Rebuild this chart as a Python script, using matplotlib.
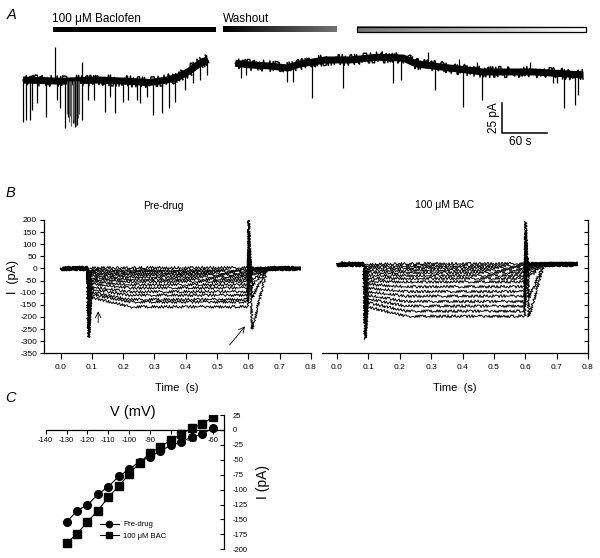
import numpy as np
import matplotlib
matplotlib.use("Agg")
import matplotlib.pyplot as plt
from matplotlib.patches import Rectangle

plt.rcParams['font.family'] = ['Liberation Sans', 'DejaVu Sans']
plt.rcParams['axes.unicode_minus'] = False

W, H = 600, 558

# ---------------- panel A : slow recording (time s, current pA)
base_left_t = [0, 49, 103, 169, 192, 209, 223, 236, 247]
base_left_i = [0, -1, 0, -2, 0, 3, 8, 14, 17]
base_right_t = [283, 303, 329, 353, 369, 403, 436, 472, 507, 525, 569, 613, 680, 747]
base_right_i = [14, 12.5, 11.7, 10, 13.3, 16.7, 16.7, 19, 18.3, 13.3, 10, 6.7, 6.7, 4.2]

left_ev_t = [0, 4, 9, 12, 19, 31, 45, 49, 56, 60, 67, 69, 72, 79, 87, 95, 109, 116,
             123, 133, 140, 152, 156, 165, 173, 185, 195, 203, 216, 227, 236, 245]
left_ev_i = [-35, -33, -33, -25, -19, -31, -17, -23, -40, -31, -36, -39, -37.5, -33, -17,
             -17, -27, -14, -27.5, -18, -17, -17, -19, -14, -29, -27.5, -23, -18, -8,
             -2.5, 0, 4]
grey_ev_t = [58, 61, 63, 64, 66, 68, 70, 71, 73, 74]
grey_ev_i = [-28, -35, -30, -38, -33, -36, -30, -38, -32, -28]
right_ev_t = [290, 297, 352, 360, 385, 427, 493, 504, 549, 587, 612, 707, 712, 721, 736, 740]
right_ev_i = [2, 4, -1.7, -1.7, -15, -6.7, -2.5, 0, -8.3, -22.5, -16.7, -2.5, -2.5,
              -23.3, -20.8, -12.5]
up_t = [43, 79, 540, 581, 605, 676]
up_i = [27.5, 15, 23, 17.5, 15, 15]

baclofen = (40, 257)
washout1 = (267, 419)
washout2 = (445, 751)
scale_t, scale_i = 60, 25

# ---------------- panel B : voltage steps (s, pA)
steps_mv = [-130, -125, -120, -115, -110, -105, -100, -95, -90, -85, -80, -75, -70, -65, -60]
pre_hold = 0
pre_init = [-118, -105, -97, -85, -75, -62, -53, -44, -37, -29, -22, -17, -10, -6, 2]
pre_ss = [-158, -138, -128, -110, -96, -80, -67, -54, -45, -35, -26, -20, -12, -7, 3]
pre_onset = [-285, -270, -250, -230, -200, -175, -150, -125, -105, -85, -70, -55, -40, -25, -10]
pre_up = [200, 150, 110, 80, 60, 45, 35, 25, 20, 15, 10, 8, 5, 3, 2]
pre_tail = [-250, -120, -70, -45, -30, -20, -12, -8, -5, -3, -2, 0, 0, 0, 0]

bac_hold = 20
bac_init = [-158, -140, -125, -110, -95, -80, -65, -52, -40, -28, -17, -8, 0, 8, 15]
bac_ss = [-197, -176, -155, -136, -114, -95, -75, -55, -41, -29, -17, -7, 3, 11, 20]
bac_onset = [-292, -270, -245, -220, -195, -170, -145, -120, -100, -80, -60, -40, -20, 0, 10]
bac_up = [195, 150, 110, 85, 65, 50, 40, 35, 30, 28, 26, 24, 22, 21, 20]
bac_tail = [-200, -120, -35, -20, -10, -2, 5, 10, 12, 15, 18, 20, 20, 20, 20]

t_knots = [0.0, 0.086, 0.09, 0.097, 0.22, 0.599, 0.601, 0.612, 0.66, 0.765]

# ---------------- panel C : I-V relation
iv_v = [-130, -125, -120, -115, -110, -105, -100, -95, -90, -85, -80, -75, -70, -65, -60]
iv_pre = [-155, -135, -126, -108, -95, -78, -66, -53, -45, -35, -26, -20, -12, -7, 3]
iv_bac = [-190, -174, -154, -135, -113, -94, -74, -55, -39, -28, -17, -7, 3, 10, 21]


def box(x0, y0, x1, y1):
    return [x0 / W, 1 - y1 / H, (x1 - x0) / W, (y1 - y0) / H]


def ftext(x, y, s, **kw):
    fig.text(x / W, 1 - y / H, s, **kw)


fig = plt.figure(figsize=(6, 5.58), dpi=100, facecolor='white')

# ======== A
ax = fig.add_axes(box(0, 0, 600, 160))
ax.axis('off')
for bt, bi in [(base_left_t, base_left_i), (base_right_t, base_right_i)]:
    ax.plot(bt, bi, color='black', lw=5, solid_capstyle='butt')
    ln, = ax.plot(bt, bi, color='black', lw=1.0)
    ln.set_sketch_params(5.5, 1.0, 2)
ax.vlines(left_ev_t, np.interp(left_ev_t, base_left_t, base_left_i), left_ev_i,
          color='black', lw=0.9)
ax.vlines(grey_ev_t, np.interp(grey_ev_t, base_left_t, base_left_i), grey_ev_i,
          color='0.35', lw=0.8)
ax.vlines(right_ev_t, np.interp(right_ev_t, base_right_t, base_right_i), right_ev_i,
          color='black', lw=0.9)
up_base = [np.interp(t, base_left_t, base_left_i) if t < 260 else
           np.interp(t, base_right_t, base_right_i) for t in up_t]
ax.vlines(up_t, up_base, up_i, color='black', lw=0.9)

bar_lo, bar_hi = 40.0, 44.2
ax.add_patch(Rectangle((baclofen[0], bar_lo), baclofen[1] - baclofen[0], bar_hi - bar_lo,
                       color='black', lw=0))
ax.imshow(np.linspace(0.0, 0.45, 256)[None, :], cmap='gray', vmin=0, vmax=1, aspect='auto',
          extent=(washout1[0], washout1[1], bar_lo, bar_hi), interpolation='bilinear')
ax.imshow(np.linspace(0.45, 1.0, 256)[None, :], cmap='gray', vmin=0, vmax=1, aspect='auto',
          extent=(washout2[0], washout2[1], bar_lo, bar_hi), interpolation='bilinear')
ax.add_patch(Rectangle((washout2[0], bar_lo), washout2[1] - washout2[0], bar_hi - bar_lo,
                       fill=False, ec='black', lw=0.9))
sx, sy = 638.7, -44.2
ax.plot([sx, sx, sx + scale_t], [sy + scale_i, sy, sy], color='black', lw=1.1)
ax.set_xlim(-30.7, 769.3)
ax.set_ylim(-66.7, 66.7)

ftext(12, 15, 'A', fontsize=10.5, style='italic', va='center', ha='center')
ftext(52, 19, '100 \u03bcM Baclofen', fontsize=8.5, va='center')
ftext(223, 19, 'Washout', fontsize=8.5, va='center')
ftext(494, 118, '25 pA', fontsize=8.5, rotation=90, va='center', ha='center')
ftext(520, 142, '60 s', fontsize=8.5, va='center', ha='center')

# ======== B
yt = np.arange(-350, 201, 50)


def draw_sweeps(ax, hold, onset, init, ss, up, tail):
    for k in range(len(init)):
        vals = [hold, hold, onset[k], init[k], ss[k], ss[k], up[k], tail[k], hold, hold]
        ln, = ax.plot(t_knots, vals, color='black', lw=0.7)
        ln.set_sketch_params(1.4, 2.5, 2)
    for seg in [(0.0, 0.086), (0.66, 0.765)]:
        ln, = ax.plot(seg, [hold, hold], color='black', lw=2.5, solid_capstyle='butt')
        ln.set_sketch_params(1.2, 2, 2)


axl = fig.add_axes(box(44, 220, 311, 353.3))
draw_sweeps(axl, pre_hold, pre_onset, pre_init, pre_ss, pre_up, pre_tail)
axl.vlines(0.08, 0, -48, color='black', lw=0.8)
axl.set_xlim(-0.053, 0.8)
axl.set_ylim(-350, 200)
axl.set_yticks(yt)
axl.set_xticks(np.arange(0, 0.81, 0.1))
axl.xaxis.set_major_formatter(matplotlib.ticker.FormatStrFormatter('%.1f'))
axl.spines[['top', 'right']].set_visible(False)
axl.tick_params(labelsize=6, length=3, width=0.8, pad=2)
axl.tick_params(axis='x', length=4, pad=4)
axl.annotate('', xy=(0.12, -165), xytext=(0.12, -235),
             arrowprops=dict(arrowstyle='->', lw=0.6, color='black'))
axl.annotate('', xy=(0.595, -230), xytext=(0.534, -325),
             arrowprops=dict(arrowstyle='->', lw=0.6, color='black'), annotation_clip=False)

axr = fig.add_axes(box(322, 220, 588, 353.3))
draw_sweeps(axr, bac_hold, bac_onset, bac_init, bac_ss, bac_up, bac_tail)
axr.set_xlim(-0.048, 0.8)
axr.set_ylim(-350, 200)
axr.set_yticks(yt)
axr.set_xticks(np.arange(0, 0.81, 0.1))
axr.xaxis.set_major_formatter(matplotlib.ticker.FormatStrFormatter('%.1f'))
axr.spines[['top', 'left']].set_visible(False)
axr.yaxis.tick_right()
axr.tick_params(axis='y', direction='in', labelright=False, length=3, width=0.8)
axr.tick_params(axis='x', labelsize=6, length=4, width=0.8, pad=4)
for a in (axl, axr):
    for s in a.spines.values():
        s.set_linewidth(0.9)

ftext(10, 193, 'B', fontsize=10.5, style='italic', va='center', ha='center')
ftext(163, 206, 'Pre-drug', fontsize=7.5, va='center', ha='center')
ftext(445, 205, '100 \u03bcM BAC', fontsize=7.5, va='center', ha='center')
ftext(13, 277, 'I  (pA)', fontsize=9, rotation=90, va='center', ha='center')
ftext(177, 388, 'Time  (s)', fontsize=8, va='center', ha='center')
ftext(455, 388, 'Time  (s)', fontsize=8, va='center', ha='center')

# ======== C
axc = fig.add_axes(box(45.7, 415, 224.3, 549.3))
axc.plot(iv_v, iv_pre, color='black', lw=0.8, marker='o', ms=5.5, label='Pre-drug')
axc.plot(iv_v, iv_bac, color='black', lw=0.8, marker='s', ms=5.5, label='100 \u03bcM BAC')
axc.set_xlim(-140, -54.4)
axc.set_ylim(-200, 25)
axc.spines[['top', 'left']].set_visible(False)
axc.spines['bottom'].set_position(('data', 0))
axc.spines['bottom'].set_bounds(-140, -54.4)
axc.yaxis.tick_right()
axc.set_xticks(np.arange(-140, -59, 10))
axc.set_yticks(np.arange(-200, 26, 25))
axc.tick_params(axis='x', direction='out', labelsize=5.5, length=3, width=0.8, pad=2)
axc.tick_params(axis='y', direction='in', labelsize=5.5, length=3, width=0.8, pad=6)
for s in axc.spines.values():
    s.set_linewidth(0.9)
axc.legend(loc='upper left', bbox_to_anchor=(0.28, 0.24), frameon=False, fontsize=5.5,
           handlelength=2.6, labelspacing=0.6, borderpad=0, handletextpad=0.5, markerscale=0.82)

ftext(10, 398, 'C', fontsize=10.5, style='italic', va='center', ha='center')
ftext(133, 412, 'V (mV)', fontsize=10.5, va='center', ha='center')
ftext(263, 482, 'I (pA)', fontsize=10, rotation=90, va='center', ha='center')

fig.savefig('out.png', dpi=100, facecolor='white')
